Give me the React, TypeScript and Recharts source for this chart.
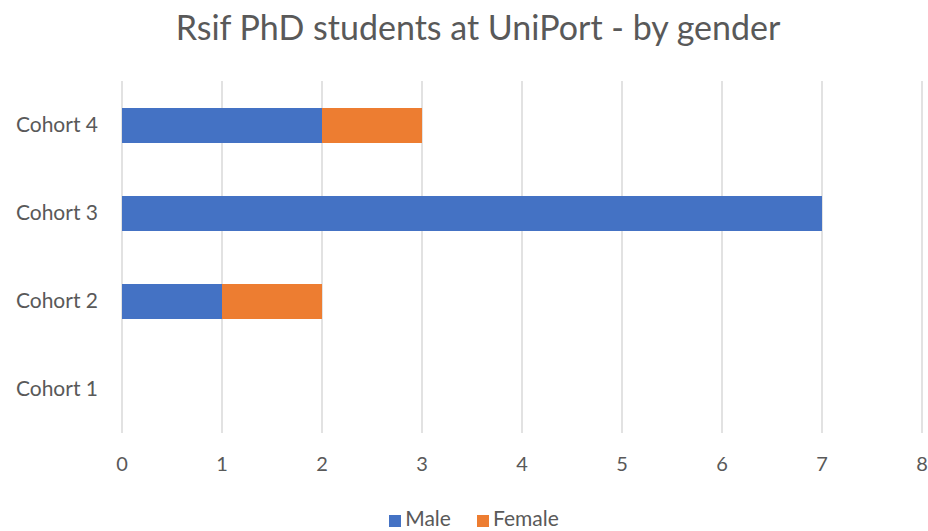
import React from "react";
import {
  BarChart,
  Bar,
  CartesianGrid,
  XAxis,
  YAxis,
  Legend,
} from "recharts";

const cohorts = ["Cohort 1", "Cohort 2", "Cohort 3", "Cohort 4"];
const male = [0, 1, 7, 2];
const female = [0, 1, 0, 1];
const xTicks = [0, 1, 2, 3, 4, 5, 6, 7, 8];

const data = cohorts.map((name, i) => ({ name, Male: male[i], Female: female[i] }));

const FONT = "Lato, 'Open Sans', sans-serif";
const TEXT = "#595959";

const App = () => {
  return (
    <div style={{ position: "absolute", left: 0, top: 0, width: 928, height: 531, background: "#fff", fontFamily: FONT }}>
      <div
        style={{
          position: "absolute",
          left: 0,
          top: 7,
          width: 956,
          textAlign: "center",
          fontSize: 34,
          color: TEXT,
          lineHeight: "40px",
        }}
      >
        Rsif PhD students at UniPort - by gender
      </div>
      <BarChart
        width={928}
        height={531}
        layout="vertical"
        data={data}
        margin={{ top: 81, right: 6, left: 0, bottom: 43 }}
        barCategoryGap="30%"
      >
        <CartesianGrid horizontal={false} stroke="#d9d9d9" strokeWidth={1.5} />
        <XAxis
          type="number"
          domain={[0, 8]}
          ticks={xTicks}
          interval={0}
          axisLine={false}
          tickLine={false}
          tickSize={0}
          tickMargin={24}
          tick={{ fill: TEXT, fontSize: 20, fontFamily: FONT }}
        />
        <YAxis
          type="category"
          dataKey="name"
          reversed
          width={122}
          axisLine={false}
          tickLine={false}
          tickSize={0}
          tickMargin={24}
          tick={{ fill: TEXT, fontSize: 21, fontFamily: FONT }}
        />
        <Legend
          verticalAlign="bottom"
          iconType="square"
          iconSize={12}
          itemSorter={null}
          wrapperStyle={{ top: 505, left: 18, fontSize: 21, fontFamily: FONT }}
          formatter={(v) => (
            <span style={{ color: TEXT, paddingRight: v === "Male" ? 16 : 0 }}>{v}</span>
          )}
        />
        <Bar dataKey="Male" stackId="a" fill="#4472c4" barSize={35} isAnimationActive={false} />
        <Bar dataKey="Female" stackId="a" fill="#ed7d31" barSize={35} isAnimationActive={false} />
      </BarChart>
    </div>
  );
};

export default App;
